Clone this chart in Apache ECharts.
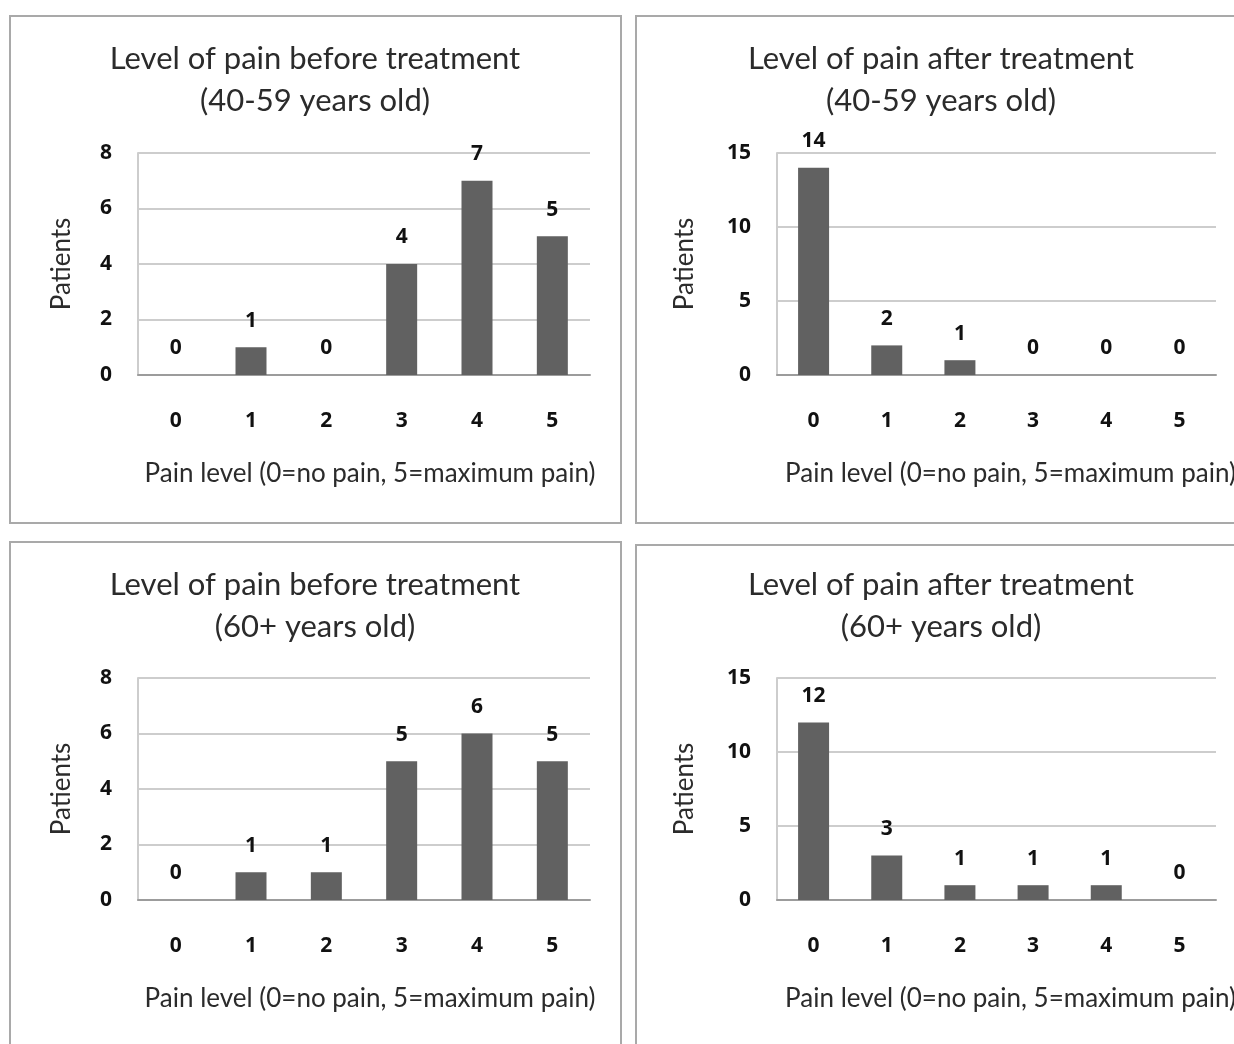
<!DOCTYPE html>
<html>
<head>
<meta charset="utf-8">
<title>Level of pain before and after treatment</title>
<script src="https://cdn.jsdelivr.net/npm/echarts@6/dist/echarts.min.js"></script>
<style>
  html, body { margin: 0; padding: 0; background: #ffffff; }
  #chart { width: 1234px; height: 1044px; }
</style>
</head>
<body>
<div id="chart"></div>
<script>
// Pain levels on the x axis (0 = no pain, 5 = maximum pain)
const painLevels = ['0', '1', '2', '3', '4', '5'];

// Number of patients at each pain level
const before4059 = [0, 1, 0, 4, 7, 5];
const after4059  = [14, 2, 1, 0, 0, 0];
const before60   = [0, 1, 1, 5, 6, 5];
const after60    = [12, 3, 1, 1, 1, 0];

const panelTitles = [
  'Level of pain before treatment\n(40-59 years old)',
  'Level of pain after treatment\n(40-59 years old)',
  'Level of pain before treatment\n(60+ years old)',
  'Level of pain after treatment\n(60+ years old)'
];
const yAxisName = 'Patients';
const xAxisName = 'Pain level (0=no pain, 5=maximum pain)';

const TEXT_FONT = 'Lato';
const NUM_FONT = 'Noto Sans';
const BAR = '#616161';
const GRIDLINE = '#cdcdcd';

// Panel layout: plot box and frame for each of the four charts
const panels = [
  { data: before4059, max: 8,  step: 2, grid: { left: 138, top: 153, width: 452, height: 222 }, titleX: 310, titleY: 33,  nameGap: 63, namePad: 12, frame: [10, 16, 611, 507] },
  { data: after4059,  max: 15, step: 5, grid: { left: 777, top: 153, width: 439, height: 222 }, titleX: 936, titleY: 33,  nameGap: 79, namePad: 28, frame: [636, 16, 620, 507] },
  { data: before60,   max: 8,  step: 2, grid: { left: 138, top: 678, width: 452, height: 222 }, titleX: 310, titleY: 559, nameGap: 63, namePad: 12, frame: [10, 542, 611, 520] },
  { data: after60,    max: 15, step: 5, grid: { left: 777, top: 678, width: 439, height: 222 }, titleX: 936, titleY: 559, nameGap: 79, namePad: 28, frame: [636, 545, 620, 520] }
];

const chart = echarts.init(document.getElementById('chart'), null, { renderer: 'canvas' });

const numberStyle = {
  fontFamily: NUM_FONT,
  fontSize: 21,
  fontWeight: 'bold',
  color: '#111111'
};

const option = {
  backgroundColor: '#ffffff',
  animation: false,
  graphic: panels.map(p => ({
    type: 'rect',
    shape: { x: p.frame[0], y: p.frame[1], width: p.frame[2], height: p.frame[3] },
    style: { fill: 'none', stroke: '#a9a9a9', lineWidth: 2 },
    z: -1,
    silent: true
  })),
  title: panels.map((p, i) => ({
    text: panelTitles[i],
    left: p.titleX,
    top: p.titleY,
    textAlign: 'center',
    textStyle: {
      fontFamily: TEXT_FONT,
      fontSize: 31,
      fontWeight: 'normal',
      color: '#2b2b2b',
      lineHeight: 42
    }
  })),
  grid: panels.map(p => Object.assign({ containLabel: false, outerBoundsMode: 'none' }, p.grid)),
  xAxis: panels.map((p, i) => ({
    type: 'category',
    gridIndex: i,
    data: painLevels,
    name: xAxisName,
    nameLocation: 'middle',
    nameGap: 86,
    nameTextStyle: {
      fontFamily: TEXT_FONT,
      fontSize: 26,
      color: '#2b2b2b',
      padding: [0, 0, 0, p.namePad]
    },
    axisLine: { show: true, lineStyle: { color: '#9c9c9c', width: 2 } },
    axisTick: { show: false },
    axisLabel: Object.assign({ margin: 36 }, numberStyle),
    splitLine: { show: false }
  })),
  yAxis: panels.map((p, i) => ({
    type: 'value',
    gridIndex: i,
    min: 0,
    max: p.max,
    interval: p.step,
    name: yAxisName,
    nameLocation: 'middle',
    nameGap: p.nameGap,
    nameRotate: 90,
    nameTextStyle: {
      fontFamily: TEXT_FONT,
      fontSize: 26,
      color: '#2b2b2b'
    },
    axisLine: { show: true, lineStyle: { color: GRIDLINE, width: 2 } },
    axisTick: { show: false },
    axisLabel: Object.assign({ margin: 26 }, numberStyle),
    splitLine: { show: true, lineStyle: { color: GRIDLINE, width: 2 } }
  })),
  series: panels.map((p, i) => ({
    type: 'bar',
    xAxisIndex: i,
    yAxisIndex: i,
    data: p.data,
    barWidth: 31,
    itemStyle: { color: BAR },
    label: Object.assign({ show: true, position: 'top', distance: 16 }, numberStyle)
  }))
};

chart.setOption(option);
</script>
</body>
</html>
